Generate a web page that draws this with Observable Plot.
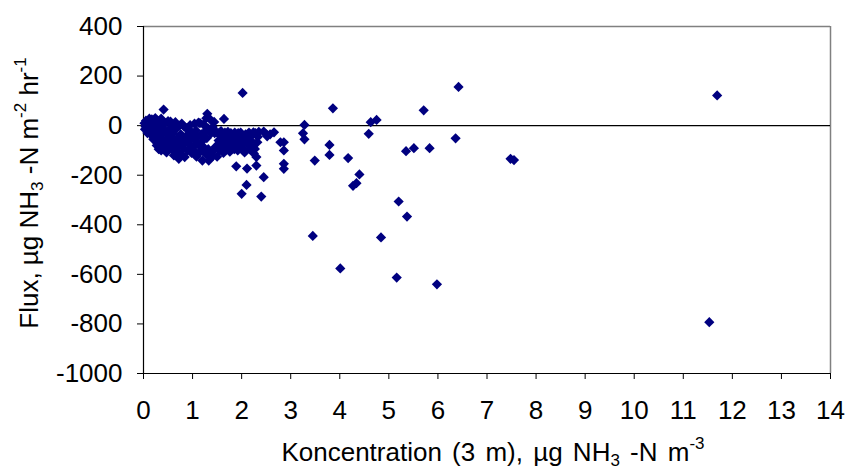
<!DOCTYPE html>
<html>
<head>
<meta charset="utf-8">
<script src="https://cdn.jsdelivr.net/npm/d3@7"></script>
<script src="https://cdn.jsdelivr.net/npm/@observablehq/plot@0.6"></script>
<style>
  html, body { margin: 0; padding: 0; background: #ffffff; }
  #chart { width: 846px; height: 470px; }
</style>
</head>
<body>
<div id="chart"></div>
<script>
// Dense cluster of low-concentration observations: [concentration, flux]
const clusterPoints = [
  [0.02,10],[0.03,-15],[0.04,-2],[0.05,20],[0.06,-5],[0.08,-30],[0.09,5],[0.10,15],[0.11,-20],[0.12,28],[0.14,0],[0.15,-36],
  [0.17,25],[0.18,-10],[0.20,-55],[0.21,10],[0.22,-30],[0.24,30],[0.25,-45],[0.26,0],[0.27,-80],[0.28,-65],[0.29,20],[0.30,-20],[0.31,-95],
  [0.33,15],[0.34,-40],[0.35,-70],[0.36,28],[0.36,-100],[0.38,-5],[0.39,-55],[0.41,65],[0.42,-25],[0.43,-90],[0.44,10],[0.45,-80],[0.46,-60],[0.47,-108],[0.48,-35],[0.50,18],
  [0.52,-15],[0.53,-75],[0.55,16],[0.56,-45],[0.58,-95],[0.59,5],[0.60,-30],[0.62,-120],[0.63,-60],[0.65,14],[0.66,-85],[0.68,-10],[0.69,-50],[0.70,-105],
  [0.72,-134],[0.73,0],[0.74,-70],[0.76,-35],[0.77,-115],[0.78,8],[0.80,-55],[0.81,-90],[0.83,-4],[0.84,-127],[0.86,-65],[0.87,-10],[0.88,-40],[0.90,-100],
  [0.92,-15],[0.93,-75],[0.95,2],[0.96,-50],[0.98,-110],[0.99,-30],[1.01,-85],[1.03,-100],[1.04,8],[1.05,-60],[1.07,-20],[1.08,-125],[1.10,-45],
  [1.12,12],[1.13,-80],[1.15,10],[1.16,-105],[1.18,-35],[1.20,-141],[1.21,-60],[1.22,5],[1.24,-90],[1.25,-25],[1.27,-115],[1.28,30],[1.29,-50],[1.30,48],
  [1.31,-10],[1.32,-95],[1.33,-141],[1.35,-120],[1.36,25],[1.38,-30],[1.40,-105],[1.41,-5],[1.42,-122],[1.44,15],[1.45,-30],[1.47,-85],[1.48,-25],[1.50,-125],
  [1.52,-30],[1.53,-60],[1.55,-100],[1.56,-40],[1.58,-22],[1.60,-80],[1.61,-50],[1.63,-110],[1.64,27],[1.66,-28],[1.67,-65],[1.69,-95],[1.70,-38],
  [1.72,-25],[1.73,-75],[1.75,-50],[1.76,-105],[1.78,-30],[1.80,-85],[1.81,-60],[1.83,-40],[1.85,-95],[1.86,-28],[1.88,-70],[1.89,-164],[1.90,-45],
  [1.92,-100],[1.93,-30],[1.95,-80],[1.96,-55],[1.98,-28],[2.00,-275],[2.01,-90],[2.02,132],[2.03,-45],[2.05,-65],[2.06,-108],[2.08,-35],[2.10,-239],[2.11,-173],
  [2.12,-75],[2.14,-50],[2.15,-28],[2.17,-95],[2.19,-60],[2.20,-40],[2.22,-85],[2.24,-27],[2.25,-112],[2.27,-94],[2.28,-30],[2.30,-127],[2.30,-161],[2.32,-67],[2.33,-45],[2.35,-25],
  [2.40,-286],[2.45,-208],[2.45,-24],[2.49,-33],[2.52,-43],[2.58,-35],[2.66,-27],[2.79,-67],[2.86,-67],[2.86,-100],[2.86,-154],[2.86,-174]
];

// Scattered higher-concentration observations: [concentration, flux]
const scatteredPoints = [
  [3.28,3],[3.25,-31],[3.28,-55],[3.49,-141],[3.45,-445],[3.79,-78],[3.79,-118],[3.86,70],
  [4.01,-576],[4.17,-131],[4.27,-243],[4.34,-232],[4.40,-197],[4.59,-33],[4.63,14],[4.75,23],
  [4.84,-451],[5.16,-613],[5.20,-306],[5.35,-103],[5.37,-367],[5.51,-91],[5.71,62],[5.83,-91],
  [5.98,-640],[6.36,-51],[6.42,156],[7.48,-134],[7.55,-139],[11.53,-793],[11.69,122]
];

const xTicks = [0,1,2,3,4,5,6,7,8,9,10,11,12,13,14];
const yTicks = [-1000,-800,-600,-400,-200,0,200,400];

const points = clusterPoints.concat(scatteredPoints).map(([c, f]) => ({conc: c, flux: f}));

const fontFamily = "'Liberation Sans', Arial, Helvetica, sans-serif";

const chart = Plot.plot({
  width: 846,
  height: 470,
  marginLeft: 143,
  marginRight: 16,
  marginTop: 26,
  marginBottom: 97,
  style: {fontFamily, fontSize: "26px", background: "#ffffff", color: "#000000", overflow: "visible"},
  x: {domain: [0, 14]},
  y: {domain: [-1000, 400]},
  marks: [
    Plot.ruleY([400], {stroke: "#808080", strokeWidth: 1.5}),
    Plot.ruleX([14], {stroke: "#808080", strokeWidth: 1.5}),
    Plot.ruleY([0], {stroke: "#000000", strokeWidth: 1.2}),
    Plot.axisX({ticks: xTicks, tickSize: 6, tickPadding: 21, label: null, tickFormat: d => String(d), stroke: "#000000"}),
    Plot.axisY({ticks: yTicks, tickSize: 6, tickPadding: 15, label: null, tickFormat: d => String(d), stroke: "#000000"}),
    Plot.ruleX([0], {stroke: "#000000", strokeWidth: 1.2}),
    Plot.ruleY([-1000], {stroke: "#000000", strokeWidth: 1.2}),
    Plot.dot(points, {x: "conc", y: "flux", symbol: "diamond2", r: 4.6, fill: "#000080", stroke: "none"})
  ]
});

document.getElementById("chart").appendChild(chart);

// Axis titles with sub/superscripts
const svg = d3.select(chart);
const xt = svg.append("text")
  .attr("x", 493).attr("y", 461)
  .attr("text-anchor", "middle")
  .style("font-family", fontFamily).style("font-size", "26px").style("word-spacing", "3px").attr("fill", "#000");
xt.append("tspan").text("Koncentration (3 m), µg NH");
xt.append("tspan").attr("dy", 5).style("font-size", "17px").text("3");
xt.append("tspan").attr("dy", -5).text(" -N m");
xt.append("tspan").attr("dy", -12).style("font-size", "17px").text("-3");

const yt = svg.append("text")
  .attr("transform", "translate(38,193) rotate(-90)")
  .attr("text-anchor", "middle")
  .style("font-family", fontFamily).style("font-size", "26px").attr("fill", "#000");
yt.append("tspan").text("Flux, µg NH");
yt.append("tspan").attr("dy", 5).style("font-size", "17px").text("3");
yt.append("tspan").attr("dy", -5).text(" -N m");
yt.append("tspan").attr("dy", -12).style("font-size", "17px").text("-2");
yt.append("tspan").attr("dy", 12).text(" hr");
yt.append("tspan").attr("dy", -12).style("font-size", "17px").text("-1");
</script>
</body>
</html>
